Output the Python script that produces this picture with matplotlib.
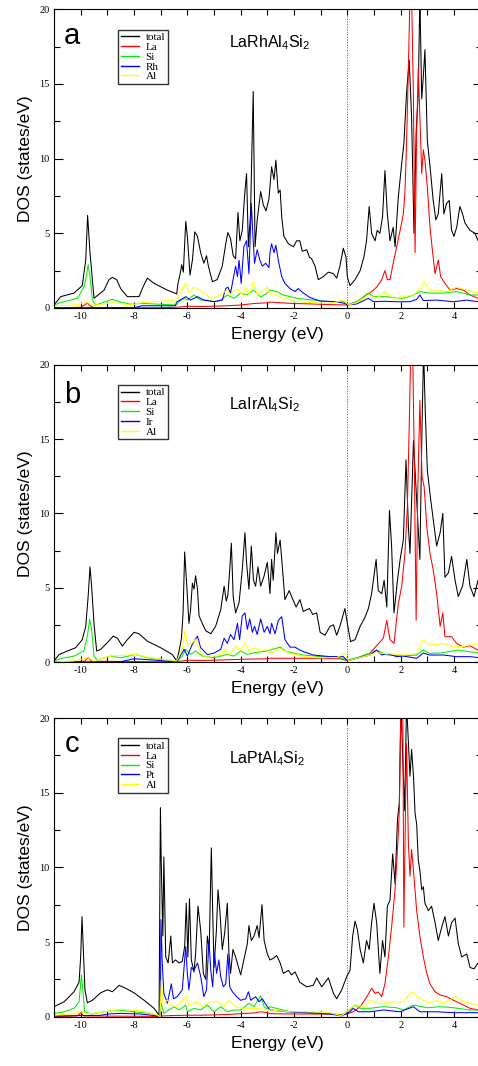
import numpy as np
import matplotlib
matplotlib.use("Agg")
import matplotlib.pyplot as plt
from matplotlib.ticker import MultipleLocator

plt.rcParams['font.family'] = 'Liberation Sans'
plt.rcParams['mathtext.fontset'] = 'custom'
plt.rcParams['mathtext.rm'] = 'Liberation Sans'
plt.rcParams['mathtext.it'] = 'Liberation Sans:italic'
plt.rcParams['axes.unicode_minus'] = False

# ---- data: [energy (eV), DOS (states/eV)] ----
# panel a : LaRhAl4Si2
a_total = np.array([
    [-11.0, 0.2], [-10.75, 0.76], [-10.25, 1.0], [-9.94, 1.5], [-9.81, 3.2], [-9.74, 6.2],
    [-9.65, 3.7], [-9.5, 0.65], [-9.12, 1.2], [-8.94, 1.9], [-8.81, 2.05], [-8.65, 1.9],
    [-8.5, 1.3], [-8.25, 0.76], [-7.81, 0.76], [-7.69, 1.3], [-7.5, 2.0], [-7.25, 1.65],
    [-6.75, 1.2], [-6.4, 0.94], [-6.35, 1.65], [-6.28, 2.2], [-6.21, 2.9], [-6.15, 2.4],
    [-6.06, 5.8], [-6.0, 4.8], [-5.9, 2.2], [-5.81, 3.2], [-5.72, 5.1], [-5.62, 4.8],
    [-5.5, 3.7], [-5.38, 3.0], [-5.28, 3.5], [-5.21, 2.8], [-5.06, 1.76], [-4.88, 1.9],
    [-4.69, 2.8], [-4.56, 4.3], [-4.48, 5.05], [-4.38, 4.65], [-4.28, 3.5], [-4.19, 3.3],
    [-4.1, 6.4], [-4.03, 4.5], [-3.94, 5.2], [-3.85, 7.6], [-3.78, 9.0], [-3.71, 4.1],
    [-3.63, 6.3], [-3.53, 14.5], [-3.46, 4.1], [-3.38, 5.9], [-3.25, 7.8], [-3.15, 6.9],
    [-3.05, 6.5], [-2.94, 7.3], [-2.84, 9.45], [-2.75, 8.6], [-2.68, 9.9], [-2.59, 7.7],
    [-2.52, 7.9], [-2.46, 6.1], [-2.38, 4.8], [-2.21, 4.3], [-2.02, 4.1], [-1.9, 4.5],
    [-1.78, 4.5], [-1.69, 3.8], [-1.52, 3.9], [-1.42, 3.4], [-1.34, 3.3], [-1.21, 2.8],
    [-1.09, 1.9], [-0.9, 2.1], [-0.71, 2.4], [-0.52, 2.3], [-0.4, 2.0], [-0.28, 2.8],
    [-0.15, 4.0], [-0.05, 3.4], [0.0, 2.1], [0.1, 1.5], [0.29, 1.9], [0.48, 2.5],
    [0.62, 3.4], [0.72, 4.5], [0.82, 6.8], [0.91, 5.0], [1.04, 4.5], [1.12, 5.2],
    [1.22, 5.0], [1.32, 6.1], [1.41, 9.2], [1.5, 6.3], [1.6, 4.5], [1.72, 5.4],
    [1.79, 4.1], [1.91, 7.4], [2.04, 9.7], [2.12, 11.0], [2.22, 14.4], [2.32, 16.6],
    [2.41, 12.8], [2.5, 5.0], [2.58, 11.7], [2.66, 14.4], [2.72, 21.0], [2.79, 14.0],
    [2.85, 15.5], [2.91, 17.3], [3.0, 11.2], [3.1, 9.5], [3.22, 7.2], [3.32, 5.9],
    [3.41, 6.3], [3.54, 9.0], [3.62, 6.3], [3.72, 7.0], [3.82, 7.2], [3.91, 5.2],
    [4.0, 4.8], [4.1, 5.4], [4.22, 6.8], [4.32, 6.3], [4.41, 5.7], [4.6, 5.2],
    [4.79, 5.0], [4.9, 4.5], [5.05, 4.6]])
a_la = np.array([
    [-11.0, 0.0], [-10.0, 0.05], [-9.85, 0.2], [-9.75, 0.35], [-9.65, 0.15], [-9.5, 0.02],
    [-7.0, 0.02], [-6.4, 0.05], [-6.0, 0.12], [-5.5, 0.1], [-5.0, 0.12], [-4.5, 0.15],
    [-4.0, 0.2], [-3.5, 0.3], [-3.0, 0.35], [-2.9, 0.4], [-2.5, 0.35], [-2.0, 0.3],
    [-1.5, 0.28], [-1.0, 0.25], [-0.5, 0.22], [0.0, 0.2], [0.48, 0.5], [0.72, 0.9],
    [0.85, 1.0], [1.1, 1.4], [1.29, 1.9], [1.41, 2.5], [1.5, 1.9], [1.6, 1.9], [1.72, 3.0],
    [1.85, 4.1], [1.98, 5.2], [2.1, 6.3], [2.16, 7.7], [2.22, 11.0], [2.29, 16.1],
    [2.35, 21.0], [2.41, 21.0], [2.48, 13.9], [2.54, 3.7], [2.6, 11.7], [2.66, 16.1],
    [2.72, 12.8], [2.79, 9.0], [2.85, 10.6], [2.91, 9.9], [3.0, 8.1], [3.1, 5.4],
    [3.2, 3.7], [3.29, 2.3], [3.41, 3.2], [3.5, 2.1], [3.66, 1.65], [3.85, 1.2],
    [4.1, 1.3], [4.35, 1.2], [4.6, 0.87], [4.9, 0.65], [5.05, 0.6]])
a_si = np.array([
    [-11.0, 0.2], [-10.75, 0.36], [-10.12, 0.65], [-9.88, 1.4], [-9.79, 2.1], [-9.72, 2.9],
    [-9.65, 2.1], [-9.56, 0.53], [-9.44, 0.2], [-9.25, 0.31], [-8.81, 0.58], [-8.56, 0.42],
    [-8.12, 0.25], [-7.69, 0.31], [-7.25, 0.27], [-6.4, 0.2], [-6.31, 0.42], [-6.12, 0.65],
    [-6.0, 0.53], [-5.75, 0.87], [-5.5, 0.53], [-5.25, 0.53], [-5.0, 0.42], [-4.75, 0.53],
    [-4.5, 0.87], [-4.25, 0.65], [-4.0, 1.0], [-3.75, 0.87], [-3.52, 1.2], [-3.25, 0.75],
    [-3.0, 1.0], [-2.9, 1.2], [-2.65, 1.1], [-2.4, 0.87], [-1.9, 0.65], [-1.28, 0.53],
    [-0.65, 0.42], [-0.15, 0.42], [0.04, 0.2], [0.35, 0.42], [0.79, 1.0], [0.98, 0.76],
    [1.41, 0.76], [2.1, 0.65], [2.48, 0.87], [2.72, 1.1], [3.1, 1.0], [3.6, 1.0],
    [4.1, 1.1], [4.6, 0.87], [4.9, 0.87], [5.05, 0.85]])
a_rh = np.array([
    [-11.0, 0.02], [-8.0, 0.03], [-7.7, 0.15], [-7.0, 0.15], [-6.45, 0.15], [-6.4, 0.4],
    [-6.06, 0.76], [-5.88, 0.53], [-5.62, 0.76], [-5.38, 0.53], [-5.0, 0.42], [-4.69, 0.53],
    [-4.56, 1.3], [-4.48, 1.4], [-4.38, 1.0], [-4.19, 2.8], [-4.12, 2.1], [-4.06, 3.2],
    [-3.98, 1.65], [-3.88, 4.1], [-3.78, 4.5], [-3.69, 2.3], [-3.6, 7.0], [-3.54, 4.8],
    [-3.48, 3.0], [-3.38, 3.9], [-3.28, 3.2], [-3.19, 2.8], [-3.06, 3.0], [-2.94, 2.7],
    [-2.9, 3.7], [-2.84, 4.3], [-2.75, 3.7], [-2.68, 4.2], [-2.59, 3.2], [-2.46, 2.1],
    [-2.34, 1.65], [-2.15, 1.3], [-1.96, 1.1], [-1.84, 1.3], [-1.65, 1.0], [-1.4, 0.7],
    [-1.03, 0.47], [-0.4, 0.42], [-0.09, 0.3], [0.0, 0.2], [0.35, 0.27], [0.79, 0.65],
    [0.98, 0.42], [1.35, 0.45], [1.85, 0.42], [2.35, 0.42], [2.6, 0.58], [2.72, 0.87],
    [2.85, 0.5], [3.35, 0.53], [3.98, 0.42], [4.48, 0.53], [4.9, 0.42], [5.05, 0.42]])
a_al = np.array([
    [-11.0, 0.13], [-10.25, 0.2], [-9.75, 0.36], [-9.5, 0.18], [-8.8, 0.36], [-8.12, 0.2],
    [-7.69, 0.36], [-7.25, 0.42], [-6.4, 0.53], [-6.25, 1.1], [-6.06, 1.65], [-5.94, 1.0],
    [-5.75, 1.4], [-5.56, 1.2], [-5.38, 1.0], [-5.12, 0.65], [-4.88, 0.76], [-4.5, 1.2],
    [-4.38, 0.87], [-4.12, 1.3], [-3.94, 0.87], [-3.81, 1.4], [-3.69, 0.9], [-3.52, 1.76],
    [-3.38, 0.9], [-3.19, 1.1], [-3.0, 1.4], [-2.9, 0.87], [-2.65, 0.87], [-2.4, 0.65],
    [-1.9, 0.42], [-1.28, 0.36], [-0.65, 0.3], [-0.15, 0.53], [0.04, 0.2], [0.35, 0.36],
    [0.79, 0.87], [1.1, 0.65], [1.41, 1.1], [1.72, 0.65], [2.1, 0.76], [2.48, 0.87],
    [2.79, 1.4], [2.88, 1.76], [3.1, 1.2], [3.35, 1.2], [3.72, 1.1], [4.1, 1.4],
    [4.48, 1.2], [4.9, 1.0], [5.05, 1.0]])

# panel b : LaIrAl4Si2
b_total = np.array([
    [-11.0, 0.07], [-10.81, 0.5], [-10.5, 0.74], [-10.19, 0.96], [-9.94, 1.5], [-9.81, 2.4],
    [-9.72, 4.4], [-9.65, 6.4], [-9.59, 5.1], [-9.5, 2.6], [-9.4, 0.74], [-9.25, 0.85],
    [-9.0, 1.3], [-8.78, 1.74], [-8.62, 1.6], [-8.44, 1.07], [-8.25, 1.5], [-8.0, 2.0],
    [-7.81, 1.9], [-7.5, 1.4], [-7.0, 0.96], [-6.56, 0.5], [-6.4, 0.07], [-6.31, 0.74],
    [-6.22, 1.6], [-6.16, 3.3], [-6.1, 7.4], [-6.02, 5.1], [-5.94, 2.6], [-5.88, 3.5],
    [-5.81, 5.3], [-5.75, 4.9], [-5.69, 5.8], [-5.62, 4.9], [-5.56, 3.1], [-5.44, 2.6],
    [-5.31, 2.1], [-5.12, 1.9], [-4.94, 2.4], [-4.75, 3.5], [-4.62, 5.1], [-4.54, 4.1],
    [-4.48, 4.5], [-4.41, 6.2], [-4.35, 8.0], [-4.28, 4.4], [-4.19, 3.3], [-4.06, 4.0],
    [-3.94, 6.2], [-3.84, 8.7], [-3.78, 6.7], [-3.69, 4.9], [-3.6, 7.8], [-3.52, 5.5],
    [-3.44, 5.1], [-3.35, 6.4], [-3.25, 5.1], [-3.12, 5.8], [-3.0, 6.7], [-2.9, 4.6],
    [-2.84, 6.9], [-2.78, 5.5], [-2.68, 8.7], [-2.62, 7.3], [-2.52, 8.2], [-2.46, 6.9],
    [-2.34, 4.2], [-2.18, 4.8], [-2.09, 4.4], [-1.92, 3.7], [-1.78, 4.2], [-1.65, 3.4],
    [-1.42, 3.6], [-1.3, 3.2], [-1.15, 3.3], [-1.02, 2.0], [-0.84, 1.8], [-0.65, 2.4],
    [-0.52, 2.5], [-0.4, 1.8], [-0.28, 2.4], [-0.09, 3.6], [0.0, 2.6], [0.12, 1.37],
    [0.29, 1.5], [0.48, 2.4], [0.66, 3.0], [0.79, 3.6], [0.91, 4.6], [1.08, 6.9],
    [1.16, 4.8], [1.29, 4.6], [1.38, 5.5], [1.48, 3.7], [1.58, 10.2], [1.66, 7.8],
    [1.75, 3.3], [1.88, 5.5], [1.98, 6.9], [2.1, 8.2], [2.2, 13.6], [2.29, 9.1],
    [2.35, 7.3], [2.48, 14.9], [2.6, 10.9], [2.72, 6.9], [2.8, 15.8], [2.86, 21.0],
    [2.92, 17.0], [3.0, 12.9], [3.1, 11.3], [3.22, 9.6], [3.35, 7.8], [3.48, 8.7],
    [3.58, 10.0], [3.66, 5.7], [3.79, 6.0], [3.91, 7.1], [4.04, 5.5], [4.16, 4.4],
    [4.32, 5.1], [4.48, 6.9], [4.6, 5.1], [4.75, 4.4], [4.9, 5.5], [5.05, 5.3]])
b_la = np.array([
    [-11.0, 0.0], [-9.85, 0.05], [-9.72, 0.3], [-9.6, 0.05], [-7.0, 0.02], [-6.4, 0.02],
    [-6.0, 0.12], [-5.5, 0.1], [-5.0, 0.12], [-4.5, 0.15], [-4.0, 0.18], [-3.5, 0.2],
    [-3.0, 0.22], [-2.9, 0.25], [-2.0, 0.25], [-1.0, 0.25], [-0.3, 0.22], [0.0, 0.1],
    [0.35, 0.25], [0.85, 0.6], [1.1, 1.1], [1.35, 1.6], [1.48, 2.8], [1.6, 1.5],
    [1.75, 1.25], [1.91, 3.9], [2.04, 5.1], [2.16, 7.3], [2.25, 10.4], [2.32, 15.8],
    [2.38, 21.0], [2.45, 21.0], [2.51, 13.6], [2.58, 2.8], [2.64, 11.3], [2.72, 17.6],
    [2.8, 12.5], [2.88, 11.8], [2.98, 9.1], [3.1, 7.3], [3.22, 6.2], [3.35, 4.6],
    [3.48, 2.4], [3.58, 3.3], [3.66, 1.7], [3.91, 1.7], [4.1, 1.25], [4.35, 1.0],
    [4.6, 1.1], [4.9, 0.8], [5.05, 0.8]])
b_si = np.array([
    [-11.0, 0.07], [-10.75, 0.22], [-10.25, 0.4], [-9.88, 0.74], [-9.75, 1.74], [-9.66, 2.86],
    [-9.59, 2.2], [-9.5, 0.4], [-9.38, 0.13], [-8.88, 0.4], [-8.5, 0.29], [-7.94, 0.51],
    [-7.5, 0.29], [-6.75, 0.13], [-6.4, 0.0], [-6.19, 0.4], [-6.06, 0.85], [-5.88, 0.51],
    [-5.69, 0.74], [-5.44, 0.4], [-5.0, 0.29], [-4.5, 0.51], [-4.25, 0.4], [-4.0, 0.74],
    [-3.75, 0.51], [-3.5, 0.62], [-3.0, 0.74], [-2.9, 0.8], [-2.52, 1.0], [-2.28, 0.7],
    [-1.65, 0.47], [-1.02, 0.36], [-0.4, 0.36], [0.0, 0.13], [0.35, 0.29], [0.85, 0.58],
    [1.1, 0.8], [1.48, 0.47], [2.1, 0.4], [2.6, 0.47], [2.85, 0.8], [3.1, 0.58],
    [3.6, 0.62], [4.1, 0.8], [4.6, 0.69], [4.9, 0.62], [5.05, 0.62]])
b_ir = np.array([
    [-11.0, 0.0], [-8.5, 0.02], [-8.0, 0.22], [-7.25, 0.13], [-6.4, 0.0], [-6.12, 0.85],
    [-6.0, 0.4], [-5.81, 1.2], [-5.62, 1.74], [-5.5, 0.96], [-5.25, 0.5], [-5.0, 0.6],
    [-4.75, 0.85], [-4.62, 1.6], [-4.5, 1.25], [-4.38, 1.85], [-4.25, 1.5], [-4.12, 2.6],
    [-4.04, 1.5], [-3.94, 3.1], [-3.84, 3.3], [-3.75, 2.2], [-3.66, 2.9], [-3.56, 2.0],
    [-3.48, 2.4], [-3.38, 1.85], [-3.25, 2.9], [-3.12, 2.0], [-3.0, 2.4], [-2.9, 1.9],
    [-2.84, 2.6], [-2.71, 1.9], [-2.59, 2.8], [-2.46, 3.05], [-2.34, 1.5], [-2.15, 1.0],
    [-1.96, 1.0], [-1.78, 0.8], [-1.65, 0.7], [-1.28, 0.47], [-0.65, 0.36], [-0.15, 0.36],
    [0.0, 0.07], [0.35, 0.25], [0.85, 0.47], [1.1, 0.8], [1.29, 0.47], [1.48, 0.58],
    [1.85, 0.36], [2.1, 0.4], [2.6, 0.25], [2.85, 0.6], [3.1, 0.47], [3.6, 0.47],
    [4.1, 0.36], [4.6, 0.36], [4.9, 0.3], [5.05, 0.3]])
b_al = np.array([
    [-11.0, 0.0], [-10.25, 0.07], [-9.75, 0.3], [-9.5, 0.07], [-8.88, 0.4], [-7.94, 0.5],
    [-7.38, 0.29], [-6.4, 0.07], [-6.19, 0.85], [-6.09, 2.1], [-5.98, 1.07], [-5.81, 1.3],
    [-5.69, 1.5], [-5.56, 0.85], [-5.38, 0.4], [-5.0, 0.4], [-4.75, 0.51], [-4.56, 0.85],
    [-4.44, 0.51], [-4.19, 1.07], [-4.0, 0.74], [-3.85, 1.3], [-3.69, 0.74], [-3.5, 0.96],
    [-3.25, 0.74], [-3.0, 0.85], [-2.9, 0.58], [-2.52, 0.9], [-2.15, 0.58], [-1.65, 0.4],
    [-1.02, 0.29], [-0.4, 0.29], [-0.09, 0.58], [0.04, 0.09], [0.35, 0.25], [0.85, 0.47],
    [1.1, 0.62], [1.41, 0.58], [2.1, 0.47], [2.6, 0.58], [2.85, 1.5], [2.98, 1.25],
    [3.22, 1.15], [3.6, 1.25], [3.98, 1.03], [4.35, 1.03], [4.6, 1.15], [4.9, 1.15],
    [5.05, 1.1]])

# panel c : LaPtAl4Si2
c_total = np.array([
    [-11.0, 0.67], [-10.62, 1.0], [-10.25, 1.67], [-10.06, 2.3], [-10.0, 4.0], [-9.95, 6.7],
    [-9.9, 4.5], [-9.84, 1.8], [-9.75, 0.94], [-9.56, 1.1], [-9.25, 1.6], [-9.0, 1.8],
    [-8.81, 1.67], [-8.56, 2.1], [-8.31, 1.9], [-8.0, 1.6], [-7.62, 1.1], [-7.25, 0.56],
    [-7.06, 0.1], [-7.01, 14.0], [-6.98, 10.5], [-6.92, 5.4], [-6.88, 10.7], [-6.81, 4.0],
    [-6.72, 3.6], [-6.62, 5.4], [-6.56, 3.6], [-6.44, 3.8], [-6.31, 3.6], [-6.19, 3.7],
    [-6.1, 4.7], [-6.04, 7.6], [-5.98, 4.0], [-5.92, 7.9], [-5.85, 3.8], [-5.75, 3.0],
    [-5.69, 4.2], [-5.6, 7.4], [-5.5, 5.8], [-5.4, 2.9], [-5.31, 2.5], [-5.25, 5.4],
    [-5.18, 4.5], [-5.1, 11.3], [-5.05, 7.1], [-5.0, 3.3], [-4.91, 5.8], [-4.85, 8.5],
    [-4.78, 7.1], [-4.69, 4.5], [-4.6, 5.6], [-4.5, 7.6], [-4.44, 4.2], [-4.38, 2.9],
    [-4.29, 4.5], [-4.19, 4.0], [-4.0, 2.8], [-3.88, 3.8], [-3.75, 4.9], [-3.69, 6.1],
    [-3.6, 5.1], [-3.5, 5.4], [-3.38, 6.1], [-3.31, 5.3], [-3.2, 7.5], [-3.12, 5.1],
    [-3.0, 4.2], [-2.9, 3.8], [-2.78, 3.9], [-2.65, 4.1], [-2.52, 3.6], [-2.4, 2.9],
    [-2.21, 3.1], [-2.09, 2.8], [-1.96, 3.0], [-1.78, 2.3], [-1.52, 2.0], [-1.28, 2.1],
    [-1.15, 2.6], [-0.96, 2.0], [-0.71, 2.6], [-0.52, 1.56], [-0.4, 1.2], [-0.21, 1.8],
    [-0.02, 2.7], [0.1, 3.1], [0.2, 5.4], [0.29, 6.4], [0.38, 5.8], [0.48, 4.5],
    [0.6, 3.6], [0.72, 5.1], [0.82, 4.5], [0.91, 6.3], [1.0, 7.6], [1.1, 6.3],
    [1.22, 2.9], [1.32, 5.1], [1.41, 4.0], [1.5, 7.4], [1.6, 7.8], [1.7, 10.9],
    [1.79, 8.9], [1.88, 13.2], [1.95, 14.3], [2.01, 21.0], [2.08, 17.2], [2.15, 13.8],
    [2.22, 21.0], [2.29, 18.3], [2.35, 16.1], [2.41, 17.9], [2.48, 16.1], [2.54, 13.6],
    [2.6, 12.9], [2.66, 10.5], [2.72, 9.8], [2.79, 8.5], [2.85, 8.7], [2.91, 7.6],
    [3.04, 7.1], [3.16, 7.4], [3.29, 6.3], [3.41, 5.1], [3.54, 6.0], [3.66, 6.7],
    [3.79, 5.4], [3.91, 6.3], [4.04, 6.6], [4.16, 4.9], [4.29, 4.0], [4.48, 4.2],
    [4.6, 3.3], [4.75, 3.2], [4.9, 3.6], [5.05, 3.5]])
c_la = np.array([
    [-11.0, 0.0], [-10.12, 0.05], [-10.0, 0.27], [-9.88, 0.05], [-7.1, 0.02], [-7.0, 0.05],
    [-6.5, 0.08], [-6.0, 0.1], [-5.5, 0.1], [-5.0, 0.12], [-4.5, 0.15], [-4.0, 0.2],
    [-3.5, 0.25], [-3.25, 0.33], [-3.0, 0.27], [-2.9, 0.2], [-2.0, 0.18], [-1.0, 0.18],
    [-0.2, 0.15], [0.0, 0.18], [0.22, 0.33], [0.48, 0.67], [0.72, 1.3], [0.91, 1.9],
    [1.04, 1.56], [1.16, 1.65], [1.29, 1.34], [1.41, 2.2], [1.54, 4.0], [1.66, 6.0],
    [1.79, 8.5], [1.88, 11.2], [1.95, 13.8], [2.01, 21.0], [2.08, 21.0], [2.12, 6.0],
    [2.18, 13.8], [2.22, 18.3], [2.29, 11.6], [2.35, 9.4], [2.41, 11.2], [2.48, 9.8],
    [2.6, 7.1], [2.72, 5.4], [2.85, 4.0], [2.98, 2.9], [3.1, 2.2], [3.29, 1.67],
    [3.48, 1.45], [3.72, 1.34], [3.98, 1.1], [4.22, 0.9], [4.6, 0.56], [4.9, 0.45],
    [5.05, 0.45]])
c_si = np.array([
    [-11.0, 0.22], [-10.62, 0.33], [-10.25, 0.56], [-10.06, 1.0], [-9.97, 2.8], [-9.92, 1.8],
    [-9.85, 0.33], [-9.62, 0.18], [-9.12, 0.33], [-8.62, 0.45], [-8.0, 0.33], [-7.38, 0.22],
    [-7.06, 0.05], [-6.98, 0.9], [-6.88, 0.22], [-6.69, 0.45], [-6.5, 0.67], [-6.31, 0.45],
    [-6.06, 0.78], [-6.0, 0.33], [-5.75, 0.56], [-5.5, 0.45], [-5.25, 0.78], [-5.0, 0.33],
    [-4.75, 0.67], [-4.5, 0.33], [-4.25, 0.45], [-4.0, 0.45], [-3.69, 0.9], [-3.5, 0.67],
    [-3.25, 1.4], [-3.12, 0.67], [-3.0, 0.5], [-2.9, 0.67], [-2.65, 0.56], [-2.15, 0.33],
    [-1.4, 0.27], [-0.65, 0.22], [-0.21, 0.09], [0.1, 0.45], [0.29, 0.78], [0.48, 0.56],
    [0.85, 0.56], [1.35, 0.67], [1.85, 0.6], [2.1, 0.45], [2.48, 0.78], [2.98, 0.6],
    [3.48, 0.67], [3.98, 0.6], [4.6, 0.45], [4.9, 0.45], [5.05, 0.45]])
c_pt = np.array([
    [-11.0, 0.05], [-9.25, 0.09], [-9.0, 0.18], [-8.5, 0.22], [-7.75, 0.18], [-7.12, 0.05],
    [-7.01, 0.1], [-6.99, 6.5], [-6.94, 3.6], [-6.88, 1.56], [-6.75, 0.9], [-6.6, 2.2],
    [-6.52, 1.2], [-6.38, 1.34], [-6.19, 1.8], [-6.06, 4.7], [-6.0, 2.9], [-5.94, 1.8],
    [-5.85, 3.3], [-5.75, 3.1], [-5.62, 3.6], [-5.5, 2.7], [-5.38, 1.34], [-5.28, 1.8],
    [-5.19, 5.1], [-5.12, 3.1], [-5.05, 2.0], [-4.98, 4.2], [-4.9, 2.9], [-4.82, 3.8],
    [-4.75, 2.7], [-4.65, 2.0], [-4.56, 2.2], [-4.48, 4.2], [-4.41, 2.0], [-4.31, 1.67],
    [-4.15, 1.34], [-4.0, 1.1], [-3.81, 1.2], [-3.71, 1.67], [-3.62, 1.1], [-3.44, 1.34],
    [-3.31, 1.0], [-3.19, 1.2], [-3.0, 0.67], [-2.9, 0.45], [-2.28, 0.33], [-1.65, 0.27],
    [-0.65, 0.18], [-0.21, 0.05], [0.1, 0.33], [0.22, 0.56], [0.41, 0.33], [0.85, 0.33],
    [1.35, 0.45], [1.98, 0.33], [2.48, 0.67], [2.72, 0.33], [3.35, 0.33], [3.98, 0.27],
    [4.6, 0.27], [4.9, 0.27], [5.05, 0.27]])
c_al = np.array([
    [-11.0, 0.11], [-10.25, 0.18], [-10.0, 0.33], [-9.75, 0.18], [-9.12, 0.33], [-8.5, 0.5],
    [-7.75, 0.4], [-7.12, 0.11], [-7.02, 0.0], [-6.98, 2.45], [-6.9, 0.9], [-6.75, 1.1],
    [-6.62, 0.78], [-6.38, 0.67], [-6.06, 1.34], [-5.94, 0.78], [-5.62, 1.0], [-5.44, 0.67],
    [-5.12, 1.0], [-4.88, 1.0], [-4.62, 0.67], [-4.44, 1.1], [-4.19, 0.67], [-3.88, 0.56],
    [-3.5, 0.56], [-3.12, 0.5], [-3.0, 0.45], [-2.9, 0.45], [-2.15, 0.33], [-1.4, 0.33],
    [-0.65, 0.27], [-0.21, 0.05], [0.1, 0.56], [0.35, 0.78], [0.6, 0.67], [0.85, 1.1],
    [1.1, 0.9], [1.35, 0.9], [1.72, 1.0], [2.1, 1.0], [2.35, 1.56], [2.48, 1.67],
    [2.6, 1.34], [2.85, 1.1], [3.1, 0.9], [3.35, 1.1], [3.6, 0.9], [3.91, 1.2],
    [4.1, 1.34], [4.35, 1.0], [4.6, 0.9], [4.9, 0.78], [5.05, 0.78]])

letters = ['a', 'b', 'c']
compounds = [r'LaRhAl$_4$Si$_2$', r'LaIrAl$_4$Si$_2$', r'LaPtAl$_4$Si$_2$']
tm_names = ['Rh', 'Ir', 'Pt']
series_names = ['total', 'La', 'Si', None, 'Al']
colors = ['black', '#ff0000', '#00ee00', '#0000ff', '#ffff00']
panels = [
    [a_total, a_la, a_si, a_rh, a_al],
    [b_total, b_la, b_si, b_ir, b_al],
    [c_total, c_la, c_si, c_pt, c_al],
]

# figure layout (pixel-matched to a 478x1066 image)
W, H = 478, 1066
fig = plt.figure(figsize=(W / 100, H / 100), dpi=100)
ax_left = 54 / W
ax_width = (482 - 54) / W
bottoms = [308, 662, 1016.7]
tops = [9.3, 364.7, 718]
title_y = [0.872, 0.85, 0.85]
letter_y = [0.884, 0.871, 0.887]

for i in range(3):
    ax = fig.add_axes([ax_left, 1 - bottoms[i] / H, ax_width, (bottoms[i] - tops[i]) / H])
    for k, dat in enumerate(panels[i]):
        name = series_names[k] if series_names[k] else tm_names[i]
        ax.plot(dat[:, 0], dat[:, 1], color=colors[k], lw=0.75, label=name)
    ax.axvline(0, color='#555555', ls=':', lw=0.7, zorder=0)

    ax.set_xlim(-11, 5.05)
    ax.set_ylim(0, 20)
    ax.xaxis.set_major_locator(MultipleLocator(2))
    ax.xaxis.set_minor_locator(MultipleLocator(1))
    ax.yaxis.set_major_locator(MultipleLocator(5))
    ax.yaxis.set_minor_locator(MultipleLocator(2.5))
    ax.tick_params(which='both', direction='in', top=True, right=True, width=0.8,
                   labelsize=7.5, labelfontfamily='Liberation Serif', pad=3)
    ax.tick_params(axis='x', which='major', length=4.5)
    ax.tick_params(axis='x', which='minor', length=4)
    ax.tick_params(axis='y', which='major', length=6.5)
    ax.tick_params(axis='y', which='minor', length=4)
    for sp in ax.spines.values():
        sp.set_linewidth(0.8)

    ax.set_xlabel('Energy (eV)', fontsize=12.5)
    ax.xaxis.set_label_coords(0.521, -0.065)
    ax.set_ylabel('DOS (states/eV)', fontsize=12.5)
    ax.yaxis.set_label_coords(-0.05, 0.5)

    ax.text(0.042, letter_y[i], letters[i], transform=ax.transAxes, fontsize=21,
            ha='center', va='baseline')
    ax.text(0.409, title_y[i], compounds[i], transform=ax.transAxes, fontsize=11.5,
            ha='left', va='baseline')

    leg = ax.legend(loc='upper left', bbox_to_anchor=(0.150, 0.932), borderaxespad=0,
                    prop={'family': 'Liberation Serif', 'size': 8}, handlelength=1.6,
                    handletextpad=0.6, borderpad=0.25, labelspacing=0.0,
                    fancybox=False, framealpha=1)
    leg.get_frame().set_edgecolor('#333333')
    leg.get_frame().set_linewidth(1.0)
    for h in leg.get_lines():
        h.set_linewidth(1.0)

fig.savefig('out.png', dpi=100)
